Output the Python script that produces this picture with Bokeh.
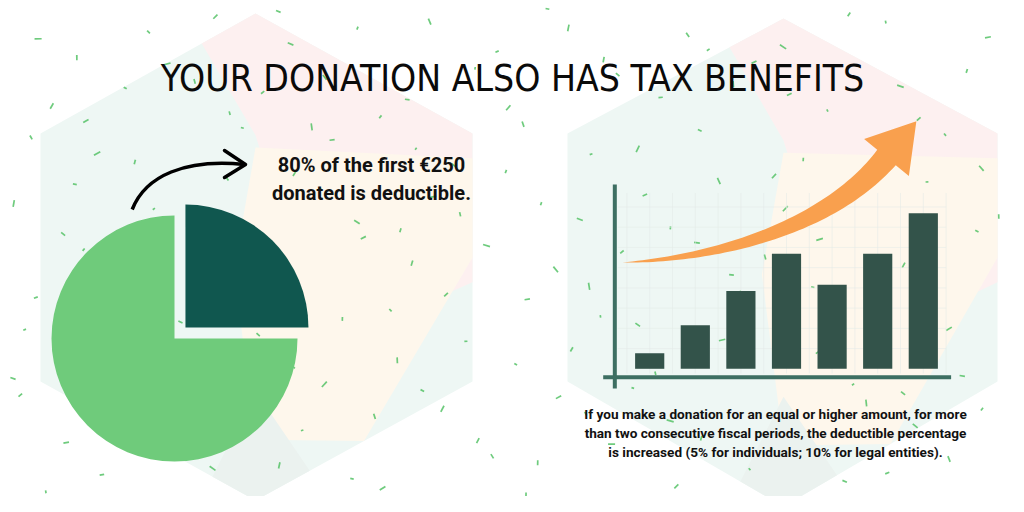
import numpy as np
from bokeh.plotting import figure
from bokeh.models import Range1d, ColumnDataSource
from bokeh.core.properties import value
from bokeh.embed import file_html
from bokeh.resources import INLINE

# ---------------- data ----------------
title_text = "YOUR DONATION ALSO HAS TAX BENEFITS"
pie_labels = ["Deductible", "Remaining"]
pie_values = [25, 75]
pie_colors = ["#10574f", "#6fcb7b"]
pie_note = ["80% of the first €250", "donated is deductible."]

bar_periods = [1, 2, 3, 4, 5, 6, 7]
bar_values = [1.0, 2.8, 5.0, 7.4, 5.4, 7.4, 10.0]
bar_note = [
    "If you make a donation for an equal or higher amount, for more",
    "than two consecutive fiscal periods, the deductible percentage",
    "is increased (5% for individuals; 10% for legal entities).",
]

# ---------------- figure (data units == picture pixels) ----------------
W, H = 1008, 496
def S(y):  # picture y -> data y
    return 512 - np.asarray(y, dtype=float)

p = figure(width=W, height=H, x_range=Range1d(0, W), y_range=Range1d(512 - H, 512),
           x_axis_type=None, y_axis_type=None, output_backend="svg",
           toolbar_location=None, min_border=0)
p.outline_line_color = None
p.background_fill_color = "white"
p.border_fill_color = "white"

# ---------------- hexagon backgrounds ----------------
def lerp(a, b, f):
    return (a[0] + (b[0] - a[0]) * f, a[1] + (b[1] - a[1]) * f)

for (cx, top, bot, l, r) in [(255, 13, 500, 40, 472), (783, 18, 506, 567, 997)]:
    T, UR, LR, Bm, LL, UL = (cx, top), (r, 133), (r, 381), (cx, bot), (l, 381), (l, 133)
    hx = [T, UR, LR, Bm, LL, UL]
    p.patch([v[0] for v in hx], S([v[1] for v in hx]), fill_color="#eef7f4", line_color=None)
    C = (cx, (top + bot) / 2)
    pink = [lerp(T, UL, 0.25), T, UR, lerp(UR, LR, 0.6), lerp(C, LR, 0.55),
            lerp(C, UR, 0.15), lerp(C, T, 0.5)]
    p.patch([v[0] for v in pink], S([v[1] for v in pink]), fill_color="#fdf0f0", line_color=None)
    peach = [lerp(C, T, 0.45), lerp(UR, LR, 0.1), lerp(UR, LR, 0.5), lerp(LR, Bm, 0.5),
             lerp(C, Bm, 0.75), lerp(C, LL, 0.1)]
    p.patch([v[0] for v in peach], S([v[1] for v in peach]), fill_color="#fef7ec", line_color=None)
    grey = [lerp(C, Bm, 0.55), lerp(LR, Bm, 0.75), Bm, lerp(Bm, LL, 0.2)]
    p.patch([v[0] for v in grey], S([v[1] for v in grey]), fill_color="#ebf2ef", line_color=None)

# ---------------- green speckles (decoration) ----------------
def halton(i, b):
    f, r = 1.0, 0.0
    while i > 0:
        f /= b
        r += f * (i % b)
        i //= b
    return r

sx0, sy0, sx1, sy1 = [], [], [], []
for i in range(1, 170):
    x = 6 + 1000 * halton(i, 2)
    y = 6 + 490 * halton(i, 3)
    ang = (i * 0.618034 % 1.0) * np.pi
    ln = 2.5 + 5 * halton(i, 5)
    sx0.append(x); sy0.append(y)
    sx1.append(x + ln * np.cos(ang)); sy1.append(y + ln * np.sin(ang))
p.segment(sx0, S(sy0), sx1, S(sy1), line_color="#55c266", line_width=1.7, line_alpha=0.85)

# ---------------- pie ----------------
pc_x, pc_y, pr = 174, 174, 123
tot = float(sum(pie_values))
cum = np.cumsum(pie_values)
ends = 2 * np.pi * cum / tot
starts = ends - 2 * np.pi * np.asarray(pie_values) / tot
mids = (starts + ends) / 2
explode = [15.5, 0.0]
pie_src = ColumnDataSource(dict(
    x=[pc_x + e * np.cos(m) for e, m in zip(explode, mids)],
    y=[pc_y + e * np.sin(m) for e, m in zip(explode, mids)],
    start=list(starts), end=list(ends), color=pie_colors, label=pie_labels))
p.wedge(x="x", y="y", radius=pr, start_angle="start", end_angle="end",
        fill_color="color", line_color=None, source=pie_src)

# black curved arrow
p.bezier(x0=[131.7], y0=S([209]), x1=[244], y1=S([164]),
         cx0=[145], cy0=S([175]), cx1=[185], cy1=S([158]),
         line_color="black", line_width=3.5)
p.line([224, 245, 224], S([150, 164, 177]), line_color="black", line_width=3.5,
       line_join="round", line_cap="round")

p.text(x=[371, 371], y=S([164, 192.5]), text=pie_note, text_align="center",
       text_baseline="middle", text_font=value("Roboto"), text_font_style="bold",
       text_font_size="20px", text_color="#111111")

# ---------------- bar chart (own scales) ----------------
bx_c0, bx_step = 649.2, 45.6     # px of period 1, px per period
by_0, by_unit = 368.3, 15.56     # px of value 0, px per unit
p.extra_x_ranges = {"bx": Range1d((0 - bx_c0) / bx_step + 1, (W - bx_c0) / bx_step + 1)}
p.extra_y_ranges = {"by": Range1d((by_0 - H) / by_unit, (by_0 - 0) / by_unit)}

# faint grid
gx = np.arange(0.5, 7.6, 0.5)
p.segment(x0=gx, y0=-0.3, x1=gx, y1=11.3, x_range_name="bx", y_range_name="by",
          line_color="#e3ebe7", line_width=1, line_alpha=0.55)
gy = np.arange(1.3, 11.5, 1.3)
p.segment(x0=0.3, y0=gy, x1=7.5, y1=gy, x_range_name="bx", y_range_name="by",
          line_color="#e3ebe7", line_width=1, line_alpha=0.55)

p.vbar(x=bar_periods, top=bar_values, bottom=0, width=0.64,
       x_range_name="bx", y_range_name="by", fill_color="#33534a", line_color=None)

# axes
p.segment(x0=[0.235], y0=[-1.27], x1=[0.235], y1=[11.84], x_range_name="bx",
          y_range_name="by", line_color="#3d6f62", line_width=4)
p.segment(x0=[-0.02], y0=[-0.54], x1=[7.61], y1=[-0.54], x_range_name="bx",
          y_range_name="by", line_color="#3d6f62", line_width=4)

# orange growth arrow
P0, P1, P2, P3 = map(np.array, [(622, 262), (720, 258), (830, 225), (886, 157)])
t = np.linspace(0, 1, 60)[:, None]
B = (1 - t) ** 3 * P0 + 3 * (1 - t) ** 2 * t * P1 + 3 * (1 - t) * t ** 2 * P2 + t ** 3 * P3
D = 3 * (1 - t) ** 2 * (P1 - P0) + 6 * (1 - t) * t * (P2 - P1) + 3 * t ** 2 * (P3 - P2)
D = D / np.linalg.norm(D, axis=1, keepdims=True)
N = np.column_stack([D[:, 1], -D[:, 0]])
w = 24 * t[:, 0] ** 0.9
up = B + N * (w[:, None] / 2)
lo = B - N * (w[:, None] / 2)
d3, n3 = D[-1], N[-1]
wing_up = P3 + n3 * 29
wing_lo = P3 - n3 * 29
tip = P3 + d3 * 47
poly = np.vstack([up, wing_up, tip, wing_lo, lo[::-1]])
p.patch(poly[:, 0], S(poly[:, 1]), fill_color="#f9a04e", line_color=None)

p.text(x=[775, 775, 775], y=S([413.5, 432.5, 451.5]), text=bar_note, text_align="center",
       text_baseline="middle", text_font=value("Roboto"), text_font_style="bold",
       text_font_size="13.6px", text_color="#111111")

# ---------------- title ----------------
p.text(x=[512], y=S([78]), text=[title_text], text_align="center",
       text_baseline="middle", text_font=value("DejaVu Sans Condensed"),
       text_font_size="37px", text_color="#0a0a0a")

open("out.html", "w").write(file_html(p, INLINE))
